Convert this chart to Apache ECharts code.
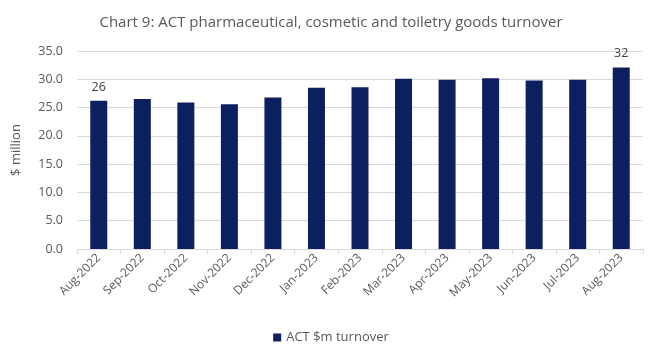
<!DOCTYPE html>
<html>
<head>
<meta charset="utf-8">
<script src="https://cdn.jsdelivr.net/npm/echarts@6/dist/echarts.min.js"></script>
<style>
  html, body { margin: 0; padding: 0; background: #fff; }
  #chart { width: 662px; height: 351px; }
</style>
</head>
<body>
<div id="chart"></div>
<script>
// Monthly turnover, ACT pharmaceutical, cosmetic and toiletry goods ($m)
const months = ['Aug-2022', 'Sep-2022', 'Oct-2022', 'Nov-2022', 'Dec-2022', 'Jan-2023', 'Feb-2023',
                'Mar-2023', 'Apr-2023', 'May-2023', 'Jun-2023', 'Jul-2023', 'Aug-2023'];
const turnover = [26.2, 26.5, 25.9, 25.6, 26.8, 28.5, 28.6, 30.1, 29.9, 30.2, 29.8, 29.9, 32.1];
const seriesName = 'ACT $m turnover';
const labelledIdx = [0, 12];

const textFont = '"Open Sans", "Liberation Sans", sans-serif';
const chart = echarts.init(document.getElementById('chart'));
chart.setOption({
  animation: false,
  title: {
    text: 'Chart 9: ACT pharmaceutical, cosmetic and toiletry goods turnover',
    left: 'center',
    top: 10,
    textStyle: { fontFamily: textFont, fontSize: 15, fontWeight: 'normal', color: '#595959' }
  },
  grid: { left: 77, right: 19, top: 51, bottom: 102 },
  legend: {
    bottom: 2,
    left: 'center',
    itemWidth: 8,
    itemHeight: 8,
    itemGap: 10,
    icon: 'rect',
    textStyle: { fontFamily: textFont, fontSize: 13, color: '#595959' },
    data: [seriesName]
  },
  xAxis: {
    type: 'category',
    data: months,
    axisLine: { lineStyle: { color: '#d9d9d9' } },
    axisTick: { show: true, alignWithLabel: false, lineStyle: { color: '#d9d9d9' } },
    axisLabel: { rotate: 45, interval: 0, margin: 7, fontFamily: textFont, fontSize: 12, color: '#595959' }
  },
  yAxis: {
    type: 'value',
    min: 0,
    max: 35,
    interval: 5,
    name: '$ million',
    nameLocation: 'middle',
    nameGap: 54,
    nameTextStyle: { fontFamily: textFont, fontSize: 13, color: '#595959' },
    axisLine: { show: false },
    axisTick: { show: false },
    axisLabel: {
      formatter: v => v.toFixed(1),
      fontFamily: textFont, fontSize: 12.5, color: '#595959', margin: 14
    },
    splitLine: { lineStyle: { color: '#d9d9d9' } }
  },
  series: [{
    name: seriesName,
    type: 'bar',
    barWidth: 17,
    itemStyle: { color: '#0c1f5e' },
    data: turnover.map((v, i) => ({
      value: v,
      label: labelledIdx.includes(i) ? {
        show: true, position: 'top', distance: 7,
        formatter: p => Math.round(p.value).toString(),
        fontFamily: textFont, fontSize: 12.5, color: '#404040'
      } : { show: false }
    }))
  }]
});
</script>
</body>
</html>
